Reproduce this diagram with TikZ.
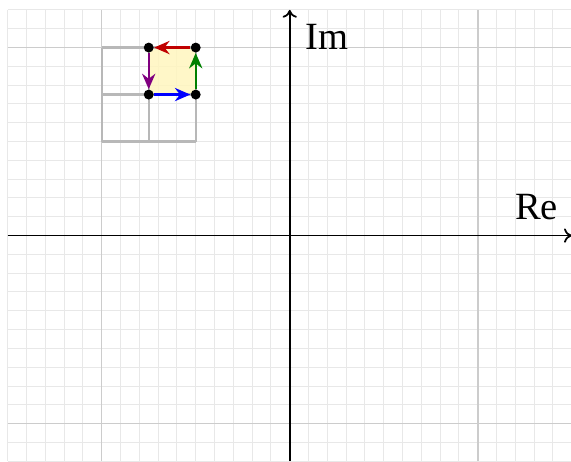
\documentclass[tikz,border=0pt]{standalone}
\usepackage{fontspec}
\setmainfont{Liberation Serif}
\usetikzlibrary{arrows.meta}
\definecolor{arrred}{RGB}{192,0,0}
\definecolor{arrgreen}{RGB}{0,128,0}
\definecolor{arrblue}{RGB}{0,0,255}
\definecolor{arrpurple}{RGB}{128,0,128}
\definecolor{sqfill}{RGB}{255,246,190}
\begin{document}
\begin{tikzpicture}[x=3cm,y=3cm,
  minorgrid/.style={black!9, line width=0.45pt},
  majorgrid/.style={black!20, line width=0.7pt},
  boxline/.style={black!28, line width=1pt},
  axisline/.style={black, line width=0.8pt, -{To[length=3.5pt,width=6.5pt]}},
  dotnode/.style={circle, fill=black, inner sep=0pt, minimum size=4.5pt},
  arr/.style={line width=1.1pt, -{Stealth[length=7pt,width=6pt]}},
  lbl/.style={inner sep=0pt, font=\fontsize{17.5}{20}\selectfont}]
\useasboundingbox (-1.541,-1.202) rectangle (1.496,1.253);
\clip (-1.541,-1.202) rectangle (1.496,1.253);
% minor grid
\foreach \i in {-15,...,15} \draw[minorgrid] (\i/10,-1.2) -- (\i/10,1.2);
\foreach \j in {-12,...,12} \draw[minorgrid] (-1.5,\j/10) -- (1.5,\j/10);
% major grid
\foreach \i in {-1,0,1} \draw[majorgrid] (\i,-1.2) -- (\i,1.2);
\foreach \j in {-1,0,1} \draw[majorgrid] (-1.5,\j) -- (1.5,\j);
% axes
\coordinate (xl) at (-1.5,0);
\coordinate (xr) at (1.5,0);
\coordinate (yb) at (0,-1.2);
\coordinate (yt) at (0,1.2);
\draw[axisline] (xl) -- (xr);
\draw[axisline] (yb) -- (yt);
\node[lbl, anchor=base west] (re) at (1.197,0.085) {Re};
\node[lbl, anchor=base west] (im) at (0.08,0.99) {Im};
% yellow square
\fill[sqfill, fill opacity=0.85] (-0.75,0.75) rectangle (-0.5,1);
% grey subdivided square
\foreach \i in {-1,-0.75,-0.5} \draw[boxline] (\i,0.5) -- (\i,1);
\foreach \j in {0.5,0.75,1} \draw[boxline] (-1,\j) -- (-0.5,\j);
% corner points
\node[dotnode] (a) at (-0.75,0.75) {};
\node[dotnode] (b) at (-0.5,0.75) {};
\node[dotnode] (c) at (-0.5,1) {};
\node[dotnode] (d) at (-0.75,1) {};
% arrows
\draw[arr, arrblue] (a) -- (b);
\draw[arr, arrgreen] (b) -- (c);
\draw[arr, arrred] (c) -- (d);
\draw[arr, arrpurple] (d) -- (a);
\end{tikzpicture}
\end{document}
